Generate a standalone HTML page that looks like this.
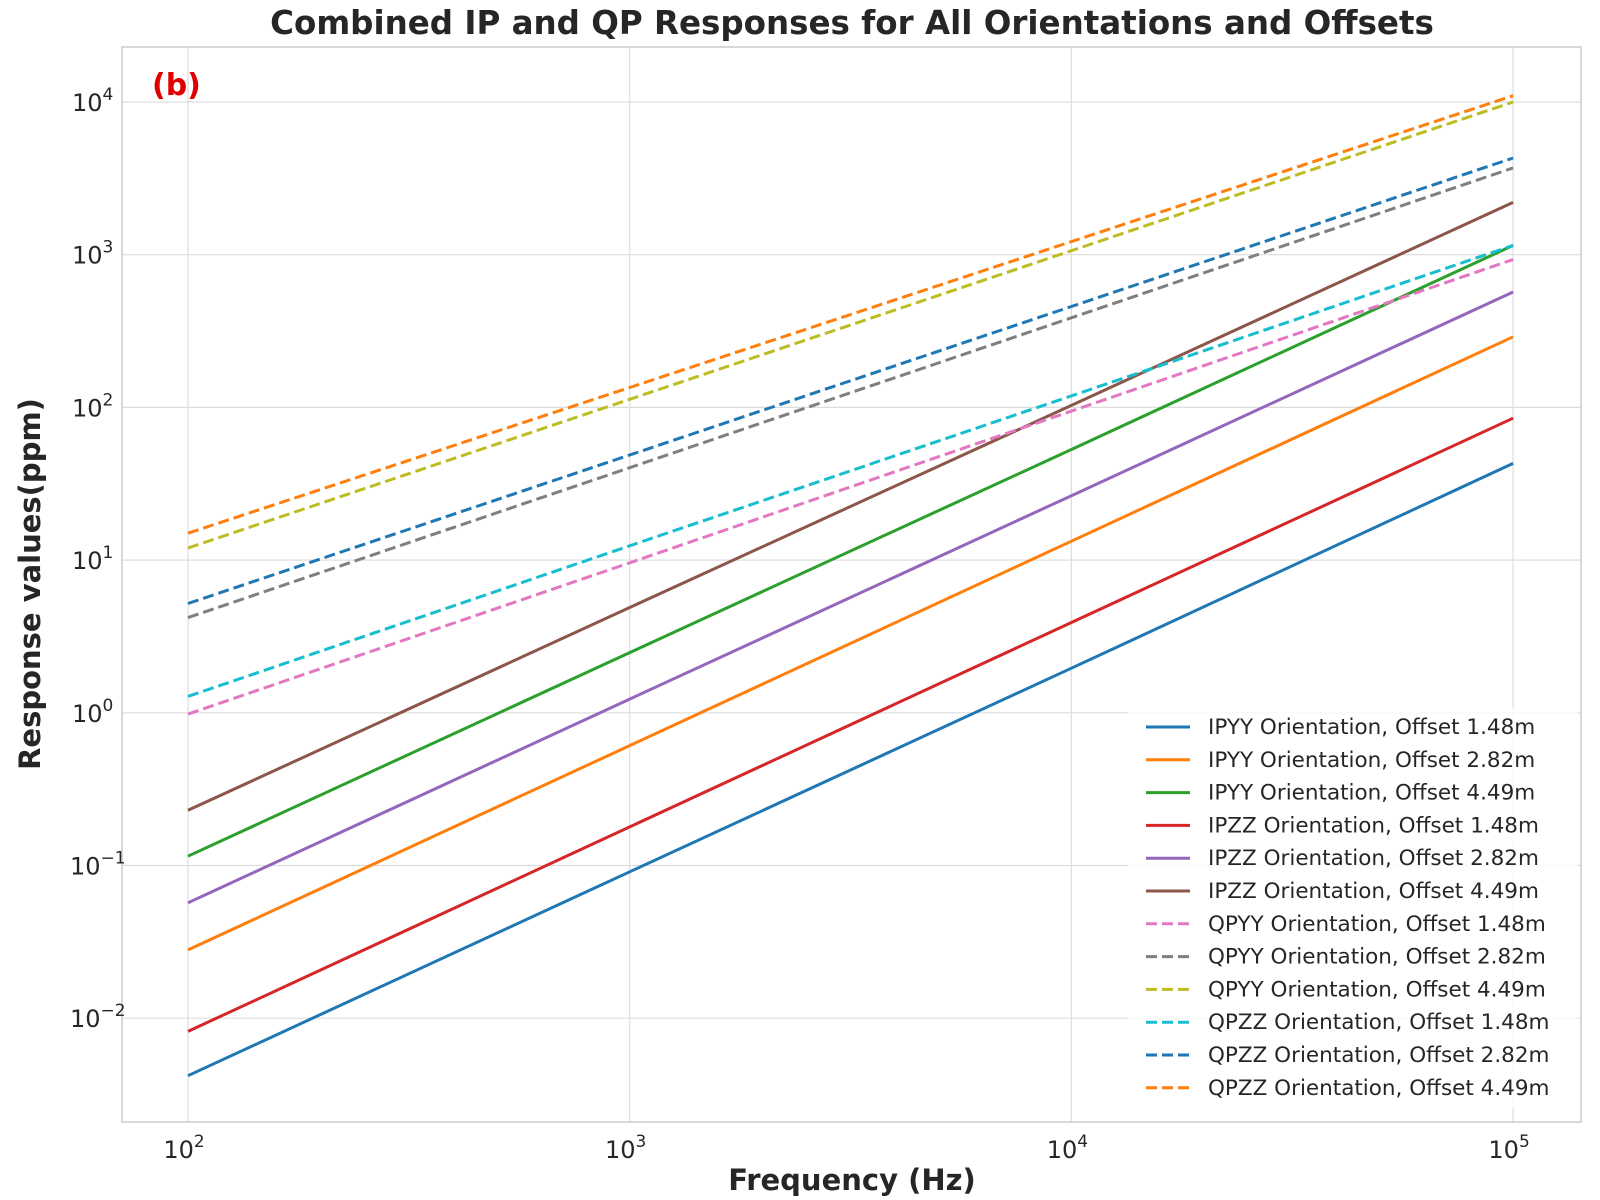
<!DOCTYPE html>
<html><head><meta charset="utf-8"><style>html,body{margin:0;padding:0;background:#fff}svg{display:block}text{font-family:"DejaVu Sans","Liberation Sans",sans-serif}</style></head>
<body>
<svg id="chart" width="1600" height="1200" xmlns="http://www.w3.org/2000/svg">
<rect width="1600" height="1200" fill="#fff"/>
<g id="grid"></g>
<rect x="122" y="47" width="1459" height="1075" fill="none" stroke="#cccccc" stroke-width="1.5"/>
<g id="series"></g>
<g id="ticks"></g>
<text x="852" y="34" text-anchor="middle" font-size="32.5" font-weight="bold" fill="#262626">Combined IP and QP Responses for All Orientations and Offsets</text>
<text x="152" y="95" font-size="30" font-weight="bold" fill="#e00000">(b)</text>
<text x="852" y="1190" text-anchor="middle" font-size="29" font-weight="bold" fill="#262626">Frequency (Hz)</text>
<text transform="translate(40,584) rotate(-90)" text-anchor="middle" font-size="29" font-weight="bold" fill="#262626">Response values(ppm)</text>
<g id="legend"></g>
</svg>
<script>
const freqs = [100, 1000, 10000, 100000];
const seriesNames = ["IPYY Orientation, Offset 1.48m","IPYY Orientation, Offset 2.82m","IPYY Orientation, Offset 4.49m","IPZZ Orientation, Offset 1.48m","IPZZ Orientation, Offset 2.82m","IPZZ Orientation, Offset 4.49m","QPYY Orientation, Offset 1.48m","QPYY Orientation, Offset 2.82m","QPYY Orientation, Offset 4.49m","QPZZ Orientation, Offset 1.48m","QPZZ Orientation, Offset 2.82m","QPZZ Orientation, Offset 4.49m"];
const ipyy148 = [0.0042, 0.091, 1.96, 43];
const ipyy282 = [0.028, 0.61, 13.3, 290];
const ipyy449 = [0.115, 2.48, 53, 1150];
const ipzz148 = [0.0082, 0.179, 3.9, 85];
const ipzz282 = [0.057, 1.23, 26.4, 570];
const ipzz449 = [0.23, 4.89, 103, 2200];
const qpyy148 = [0.98, 9.6, 94.6, 930];
const qpyy282 = [4.2, 40.3, 386, 3700];
const qpyy449 = [12, 113, 1062, 10000];
const qpzz148 = [1.28, 12.4, 119, 1150];
const qpzz282 = [5.2, 48.8, 458, 4300];
const qpzz449 = [15, 135, 1219, 11000];
const xTickExps = [2, 3, 4, 5];
const yTickExps = [-2, -1, 0, 1, 2, 3, 4];

const allSeries = [ipyy148, ipyy282, ipyy449, ipzz148, ipzz282, ipzz449, qpyy148, qpyy282, qpyy449, qpzz148, qpzz282, qpzz449];
const colors = ["#1f77b4","#ff7f0e","#2ca02c","#d62728","#9467bd","#8c564b","#e377c2","#7f7f7f","#bcbd22","#17becf","#1f77b4","#ff7f0e"];
const NS = "http://www.w3.org/2000/svg";
function xs(v){ return 188 + (Math.log10(v) - 2) * 441.7; }
function ys(v){ return 102 + (4 - Math.log10(v)) * 152.7; }
function mk(tag, attrs, parent){ const e = document.createElementNS(NS, tag); for (const k in attrs) e.setAttribute(k, attrs[k]); parent.appendChild(e); return e; }

const grid = document.getElementById('grid');
const ticks = document.getElementById('ticks');
xTickExps.forEach(p => {
  const x = xs(Math.pow(10, p));
  const g = mk('line', {x1:x, x2:x, y1:47, y2:1122, stroke:'#dddddd', 'stroke-width':1.2}, grid);
  
  
  const t = mk('text', {x:x-4, y:1158, 'text-anchor':'middle', 'font-size':24, fill:'#262626'}, ticks);
  
  
  t.textContent = '10';
  const s = mk('tspan', {dy:-11, 'font-size':17}, t); s.textContent = String(p);
});
yTickExps.forEach(p => {
  const y = ys(Math.pow(10, p));
  const g = mk('line', {x1:122, x2:1581, y1:y, y2:y, stroke:'#dddddd', 'stroke-width':1.2}, grid);
  
  
  const t = mk('text', {x: p < 0 ? 70 : 72, y:y+9, 'text-anchor':'start', 'font-size':24, fill:'#262626'}, ticks);
  
  
  t.textContent = '10';
  const s = mk('tspan', {dy:-11, 'font-size':17}, t); s.textContent = p < 0 ? '\u2212' + Math.abs(p) : String(p);
});

const sg = document.getElementById('series');
allSeries.forEach((vals, i) => {
  const d = vals.map((v, j) => (j ? 'L' : 'M') + xs(freqs[j]).toFixed(1) + ',' + ys(v).toFixed(1)).join(' ');
  const a = {d:d, fill:'none', stroke:colors[i], 'stroke-width':3};
  if (i >= 6) a['stroke-dasharray'] = '11,5';
  const p = mk('path', a, sg);
  
  
});

const lg = document.getElementById('legend');
const lb = mk('rect', {x:1128, y:708, width:449, height:400, fill:'#fff', 'fill-opacity':0.8, rx:4}, lg);


seriesNames.forEach((n, i) => {
  const y = 727 + i * 32.8;
  const a = {x1:1146, x2:1190, y1:y, y2:y, stroke:colors[i], 'stroke-width':3};
  if (i >= 6) a['stroke-dasharray'] = '11,5';
  const l = mk('line', a, lg);
  
  
  const t = mk('text', {x:1208, y:y+7, 'font-size':21.5, fill:'#262626'}, lg);
  
  
  t.textContent = n;
});
</script>
</body></html>
